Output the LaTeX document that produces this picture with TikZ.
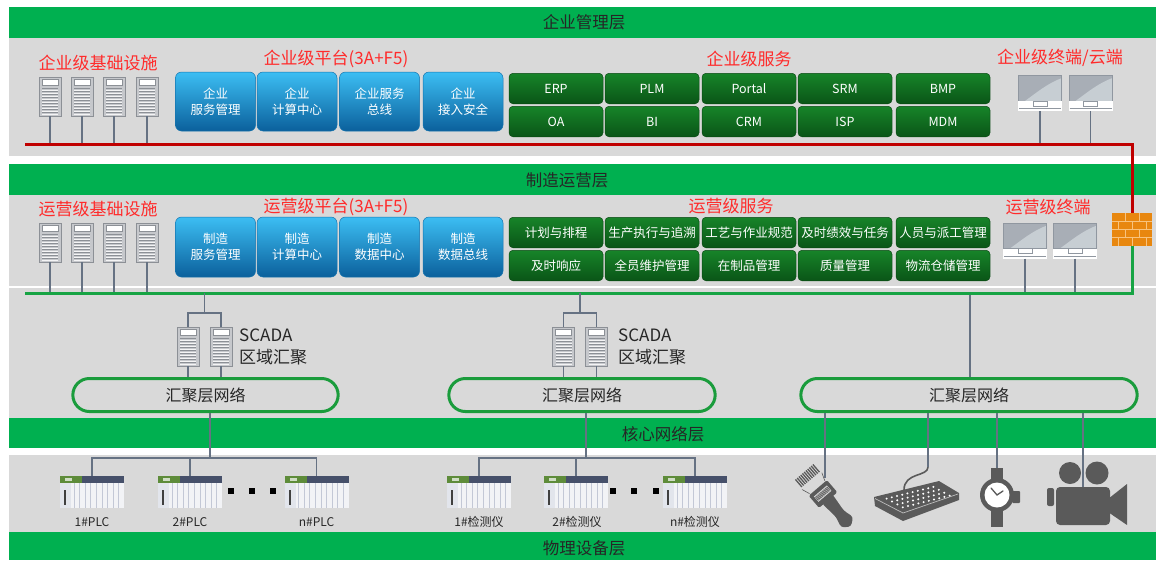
\documentclass[tikz,border=0pt]{standalone}
\usepackage{fontspec}
\setmainfont{Noto Sans CJK SC}
\usepackage{xcolor}
\usepackage{tikz}
\usetikzlibrary{shapes.misc}
\definecolor{layergreen}{HTML}{00B050}
\definecolor{panelgray}{HTML}{D9D9D9}
\definecolor{headred}{HTML}{FF2B2B}
\definecolor{busred}{HTML}{C00000}
\definecolor{busgreen}{HTML}{17A444}
\definecolor{ringgreen}{HTML}{1A9C3C}
\definecolor{wiregray}{HTML}{667283}
\definecolor{icongray}{HTML}{5A5A5A}
\definecolor{inkgray}{HTML}{262626}
\definecolor{platetop}{HTML}{3CBEF3}
\definecolor{platebot}{HTML}{0B609C}
\definecolor{plateedge}{HTML}{1674AE}
\definecolor{svctop}{HTML}{178429}
\definecolor{svcbot}{HTML}{0A5517}
\definecolor{svcedge}{HTML}{0A4A14}
\definecolor{srvfill}{HTML}{C6C8CC}
\definecolor{srvedge}{HTML}{8C9096}
\definecolor{scrgray}{HTML}{A8AEB6}
\definecolor{scrlight}{HTML}{C7CED3}
\definecolor{scredge}{HTML}{9097A0}
\definecolor{plcbody}{HTML}{F2F3F6}
\definecolor{plcshade}{HTML}{E2E5EC}
\definecolor{plcgreen}{HTML}{5E8C3A}
\definecolor{plcblue}{HTML}{46506A}
\definecolor{plcslot}{HTML}{C3C8D6}
\definecolor{brick}{HTML}{E8870F}
\definecolor{mortar}{HTML}{F8C37E}
\newcommand\layerfont{\fontsize{16.5pt}{19pt}\selectfont}
\newcommand\headfont{\fontsize{17pt}{20pt}\selectfont}
\newcommand\boxfont{\fontsize{12.5pt}{16pt}\selectfont}
\newcommand\ringfont{\fontsize{16pt}{19pt}\selectfont}
\newcommand\devfont{\fontsize{12pt}{14pt}\selectfont}
\tikzstyle{layertext}=[font=\layerfont,text=inkgray]
\tikzstyle{redhead}=[font=\headfont,text=headred]
\tikzstyle{scadatext}=[font=\headfont,text=inkgray,anchor=west,inner sep=0pt]
\tikzstyle{platbox}=[rounded corners=6pt,top color=platetop,bottom color=platebot,draw=plateedge,line width=.5pt,
  minimum width=80pt,minimum height=59pt,inner sep=0pt,align=center,text=white,font=\boxfont]
\tikzstyle{svcbox}=[rounded corners=4pt,top color=svctop,bottom color=svcbot,draw=svcedge,line width=.5pt,
  minimum width=94pt,minimum height=30.5pt,inner sep=0pt,text=white,font=\boxfont]
\tikzstyle{aggring}=[rounded rectangle,draw=ringgreen,line width=3pt,fill=panelgray,minimum height=33pt,
  font=\ringfont,text=inkgray]
\tikzstyle{morebox}=[fill=black,minimum size=5.5pt,inner sep=0pt]
\tikzstyle{devtag}=[font=\devfont,text=inkgray]
\tikzstyle{wire}=[draw=wiregray,line width=1.4pt]
\tikzstyle{redbus}=[draw=busred,line width=3pt]
\tikzstyle{greenbus}=[draw=busgreen,line width=3pt]
\tikzstyle{server}=[inner sep=0pt,minimum width=22pt,minimum height=39pt,fill=srvfill,draw=srvedge,line width=.8pt]
\tikzstyle{monitor}=[inner sep=0pt,minimum width=44pt,minimum height=36pt]
\tikzstyle{plc}=[inner sep=0pt,minimum width=64pt,minimum height=32pt,fill=plcbody]
\tikzstyle{firewall}=[inner sep=0pt,minimum width=40pt,minimum height=33pt,fill=brick]
% node plus its inner details, drawn from the top left corner: name, x, y
\newcommand\srvnode[3]{%
  \node[server] (#1) at (#2,#3) {};
  \begin{scope}[shift={(#2-11,#3-19.5)}]
    \fill[white,draw=srvedge,line width=.5pt] (3,2.5) rectangle (19,8.5);
    \foreach \k in {0,...,8}{\draw[srvedge,line width=.6pt] (3,11.5+3*\k) -- (19,11.5+3*\k);
      \draw[white!80!srvfill,line width=.8pt] (3,13+3*\k) -- (19,13+3*\k);}
  \end{scope}}
\newcommand\monnode[3]{%
  \node[monitor] (#1) at (#2,#3) {};
  \begin{scope}[shift={(#2-22,#3-18)}]
    \fill[scrgray] (0,0) rectangle (44,26);
    \fill[scrlight] (7,26) .. controls (18,18) and (30,8) .. (44,3) -- (44,26) -- cycle;
    \draw[scredge,line width=.8pt] (.4,.4) rectangle (43.6,26);
    \fill[white] (0,26) rectangle (44,36);
    \draw[scredge,line width=.6pt] (15,26) rectangle (29,31);
    \draw[scredge,line width=1pt] (1,33.5) -- (43,33.5);
  \end{scope}}
\newcommand\plcnode[3]{%
  \node[plc] (#1) at (#2,#3) {};
  \begin{scope}[shift={(#2-32,#3-16)}]
    \fill[plcgreen] (0,0) rectangle (22,7);
    \fill[plcblue] (22,0) rectangle (64,7);
    \fill[white!70!plcgreen] (5,2) rectangle (12,4.5);
    \fill[plcshade] (0,7) rectangle (11,32);
    \foreach \k in {0,...,8}{\draw[plcslot,line width=.7pt] (14+5.6*\k,7) -- (14+5.6*\k,32);}
    \fill[black!75] (4,14) rectangle (6.2,29);
  \end{scope}}
\newcommand\fwnode[3]{%
  \node[firewall] (#1) at (#2,#3) {};
  \begin{scope}[shift={(#2-20,#3-16.5)},mortar,line width=.9pt]
    \draw (0,8.25) -- (40,8.25) (0,16.5) -- (40,16.5) (0,24.75) -- (40,24.75);
    \draw (13,0) -- (13,8.25) (27,0) -- (27,8.25) (6,8.25) -- (6,16.5) (20,8.25) -- (20,16.5) (34,8.25) -- (34,16.5)
          (13,16.5) -- (13,24.75) (27,16.5) -- (27,24.75) (6,24.75) -- (6,33) (20,24.75) -- (20,33) (34,24.75) -- (34,33);
  \end{scope}}

\begin{document}
\begin{tikzpicture}[x=1pt,y=-1pt]
	\useasboundingbox (0,0) rectangle (1156,560);
	% bands and panels
	\fill[layergreen] (9,7) rectangle (1156,38);
	\fill[panelgray] (9,38) rectangle (1156,156);
	\fill[layergreen] (9,164) rectangle (1156,195);
	\fill[panelgray] (9,195) rectangle (1156,286);
	\fill[panelgray] (9,288) rectangle (1156,418);
	\fill[layergreen] (9,418) rectangle (1156,448);
	\fill[panelgray] (9,455) rectangle (1156,532);
	\fill[layergreen] (9,532) rectangle (1156,560);
	\node[layertext] (mgmt) at (584,22) {企业管理层};
	\node[layertext] (mfg) at (567,180) {制造运营层};
	\node[layertext] (core) at (663,434) {核心网络层};
	\node[layertext] (phys) at (584,548) {物理设备层};
	%
	% enterprise level
	\node[redhead] (einfra) at (98,63) {企业级基础设施};
	\node[redhead] (eplat) at (336,59) {企业级平台(3A+F5)};
	\node[redhead] (esvc) at (749,59) {企业级服务};
	\node[redhead] (eterm) at (1060,58) {企业级终端/云端};
	\srvnode{es1}{50}{96.5}
	\srvnode{es2}{82}{96.5}
	\srvnode{es3}{114}{96.5}
	\srvnode{es4}{147}{96.5}
	\node[platbox] (ep1) at (215.5,101.5) {企业\\服务管理};
	\node[platbox] (ep2) at (297,101.5) {企业\\计算中心};
	\node[platbox] (ep3) at (379.5,101.5) {企业服务\\总线};
	\node[platbox] (ep4) at (463,101.5) {企业\\接入安全};
	\node[svcbox] (erp) at (556,88.5) {ERP};
	\node[svcbox] (plm) at (652,88.5) {PLM};
	\node[svcbox] (portal) at (749,88.5) {Portal};
	\node[svcbox] (srm) at (845,88.5) {SRM};
	\node[svcbox] (bmp) at (943,88.5) {BMP};
	\node[svcbox] (oa) at (556,121.5) {OA};
	\node[svcbox] (bi) at (652,121.5) {BI};
	\node[svcbox] (crm) at (749,121.5) {CRM};
	\node[svcbox] (isp) at (845,121.5) {ISP};
	\node[svcbox] (mdm) at (943,121.5) {MDM};
	\monnode{et1}{1040}{93}
	\monnode{et2}{1090.5}{93}
	%
	% operations level
	\node[redhead] (oinfra) at (98,209) {运营级基础设施};
	\node[redhead] (oplat) at (336,207) {运营级平台(3A+F5)};
	\node[redhead] (osvc) at (731,206) {运营级服务};
	\node[redhead] (oterm) at (1048,207) {运营级终端};
	\srvnode{os1}{50}{242.5}
	\srvnode{os2}{82}{242.5}
	\srvnode{os3}{114}{242.5}
	\srvnode{os4}{147}{242.5}
	\node[platbox,minimum height=60pt] (op1) at (215.5,247) {制造\\服务管理};
	\node[platbox,minimum height=60pt] (op2) at (297,247) {制造\\计算中心};
	\node[platbox,minimum height=60pt] (op3) at (379.5,247) {制造\\数据中心};
	\node[platbox,minimum height=60pt] (op4) at (463,247) {制造\\数据总线};
	\node[svcbox] (plan) at (556,232.5) {计划与排程};
	\node[svcbox] (exec) at (652,232.5) {生产执行与追溯};
	\node[svcbox] (craft) at (749,232.5) {工艺与作业规范};
	\node[svcbox] (perf) at (845,232.5) {及时绩效与任务};
	\node[svcbox] (staff) at (943,232.5) {人员与派工管理};
	\node[svcbox] (resp) at (556,265.5) {及时响应};
	\node[svcbox] (tpm) at (652,265.5) {全员维护管理};
	\node[svcbox] (wip) at (749,265.5) {在制品管理};
	\node[svcbox] (qual) at (845,265.5) {质量管理};
	\node[svcbox] (logi) at (943,265.5) {物流仓储管理};
	\monnode{ot1}{1025}{240.5}
	\monnode{ot2}{1075}{240.5}
	\fwnode{fw}{1132}{229.5}
	%
	% aggregation
	\srvnode{sa1}{188}{346.5}
	\srvnode{sa2}{221}{346.5}
	\node[scadatext] (satop) at (239,335) {SCADA};
	\node[scadatext] (sabot) at (239,357) {区域汇聚};
	\srvnode{sb1}{563.5}{346.5}
	\srvnode{sb2}{596.5}{346.5}
	\node[scadatext] (sbtop) at (618,335) {SCADA};
	\node[scadatext] (sbbot) at (618,357) {区域汇聚};
	\node[aggring,minimum width=272pt] (agg1) at (205.5,395) {汇聚层网络};
	\node[aggring,minimum width=273pt] (agg2) at (582,395) {汇聚层网络};
	\node[aggring,minimum width=343pt] (agg3) at (969,395) {汇聚层网络};
	%
	% field devices
	\plcnode{plc1}{92}{492}
	\plcnode{plc2}{190}{492}
	\plcnode{plcn}{316.5}{492}
	\node[morebox] (pm1) at (231,491) {};
	\node[morebox] (pm2) at (252,491) {};
	\node[morebox] (pm3) at (273,491) {};
	\node[devtag] (plc1t) at (92,522) {1\#PLC};
	\node[devtag] (plc2t) at (190,522) {2\#PLC};
	\node[devtag] (plcnt) at (316.5,522) {n\#PLC};
	\plcnode{det1}{479}{492}
	\plcnode{det2}{576}{492}
	\plcnode{detn}{695}{492}
	\node[morebox] (dm1) at (613,491) {};
	\node[morebox] (dm2) at (634,491) {};
	\node[morebox] (dm3) at (656,491) {};
	\node[devtag] (det1t) at (479,522) {1\#检测仪};
	\node[devtag] (det2t) at (577,522) {2\#检测仪};
	\node[devtag] (detnt) at (695,522) {n\#检测仪};
	% scanner
	\begin{scope}[shift={(823,494)},rotate=-49.5]
		\fill[icongray,rounded corners=1.5pt] (-8,-12) rectangle (8,12);
		\fill[icongray,rounded corners=3pt] (6,-7) -- (26,-5) -- (37,-8) -- (43,0) -- (37,8) -- (26,5) -- (6,7) -- cycle;
		\fill[white!75!icongray] (-4,-8.5) rectangle (3,8.5);
		\foreach \k in {-7,...,7}{\draw[icongray,line width=.6pt] (-3,1.1*\k) -- (2,1.1*\k);}
		\foreach \k in {-5,...,5}{\draw[icongray,line width=1.3pt] (-29,2.3*\k) -- (-19,2.3*\k);}
		\draw[icongray,line width=.6pt] (-9,-10) -- (-17,-13) (-9,10) -- (-17,13);
	\end{scope}
	% keyboard
	\fill[icongray] (874,497) -- (939,481) -- (959,493) -- (959,500) -- (903,521) -- (875,506) -- cycle;
	\draw[white!60!icongray,line width=.7pt] (875,498.5) -- (903,513) -- (958,494);
	\foreach \s in {1,...,10}{\foreach \t in {1,...,4}{\fill[white] ({876+5.2*\s+5.4*\t},{497-1.3*\s+2.9*\t}) circle (1.1);}}
	\draw[icongray,line width=1.6pt] (928,467) .. controls (928,477) and (904,472) .. (904,490);
	% watch
	\fill[icongray] (991,468) rectangle (1003,479);
	\fill[icongray] (991,510) rectangle (1003,527);
	\fill[icongray,rounded corners=1pt] (1012,491) rectangle (1020,503);
	\fill[icongray] (997,495) circle (17);
	\fill[white] (997,495) circle (12.5);
	\draw[icongray,line width=1.3pt,line cap=round] (991,488) -- (997,495) -- (1003,491);
	% camera
	\fill[icongray] (1070,473) circle (11);
	\fill[icongray] (1097,473) circle (11.5);
	\fill[icongray,rounded corners=4pt] (1056,487) rectangle (1110,525);
	\fill[icongray,rounded corners=2pt] (1047,488) rectangle (1054,506);
	\fill[icongray] (1108,499) -- (1127,484) -- (1127,525) -- (1108,512) -- cycle;
	%
	% buses
	\coordinate (redW) at (25,144);
	\coordinate (redE) at (1132,144);
	\coordinate (grnW) at (25,293);
	\coordinate (grnE) at (1132,293);
	\draw[wire] (es1) -- (es1 |- redW);
	\draw[wire] (es2) -- (es2 |- redW);
	\draw[wire] (es3) -- (es3 |- redW);
	\draw[wire] (es4) -- (es4 |- redW);
	\draw[wire] (et1) -- (et1 |- redW);
	\draw[wire] (et2) -- (et2 |- redW);
	\draw[wire] (os1) -- (os1 |- grnW);
	\draw[wire] (os2) -- (os2 |- grnW);
	\draw[wire] (os3) -- (os3 |- grnW);
	\draw[wire] (os4) -- (os4 |- grnW);
	\draw[wire] (ot1) -- (ot1 |- grnW);
	\draw[wire] (ot2) -- (ot2 |- grnW);
	\draw[redbus] (redW) -- (redE) -- (fw);
	\draw[greenbus] (fw) -- (grnE) -- (grnW);
	%
	\coordinate (ja) at (204.5,313);
	\coordinate (jb) at (580,313);
	\coordinate (jc) at (970,293);
	\draw[wire] (ja |- grnW) -- (ja);
	\draw[wire] (sa1) |- (ja) -| (sa2);
	\draw[wire] (sa1) -- (sa1 |- agg1.north);
	\draw[wire] (sa2) -- (sa2 |- agg1.north);
	\draw[wire] (jb |- grnW) -- (jb);
	\draw[wire] (sb1) |- (jb) -| (sb2);
	\draw[wire] (sb1) -- (sb1 |- agg2.north);
	\draw[wire] (sb2) -- (sb2 |- agg2.north);
	\draw[wire] ([yshift=-1.5pt]jc) -- (jc |- agg3.north);
	%
	\coordinate (tp) at (210,458);
	\coordinate (td) at (586,458);
	\draw[wire] (tp |- agg1.south) -- (tp);
	\draw[wire] (plc1) |- (tp) -| (plcn);
	\draw[wire] (plc2) -- (plc2 |- tp);
	\draw[wire] (td |- agg2.south) -- (td);
	\draw[wire] (det1) |- (td) -| (detn);
	\draw[wire] (det2) -- (det2 |- td);
	%
	\coordinate (scanin) at (825,478);
	\coordinate (kbdin) at (928,467);
	\coordinate (watchin) at (997,468);
	\coordinate (camin) at (1083,487);
	\draw[wire] (scanin |- agg3.south) -- (scanin);
	\draw[wire] (kbdin |- agg3.south) -- (kbdin);
	\draw[wire] (watchin |- agg3.south) -- (watchin);
	\draw[wire] (camin |- agg3.south) -- (camin);
\end{tikzpicture}
\end{document}
